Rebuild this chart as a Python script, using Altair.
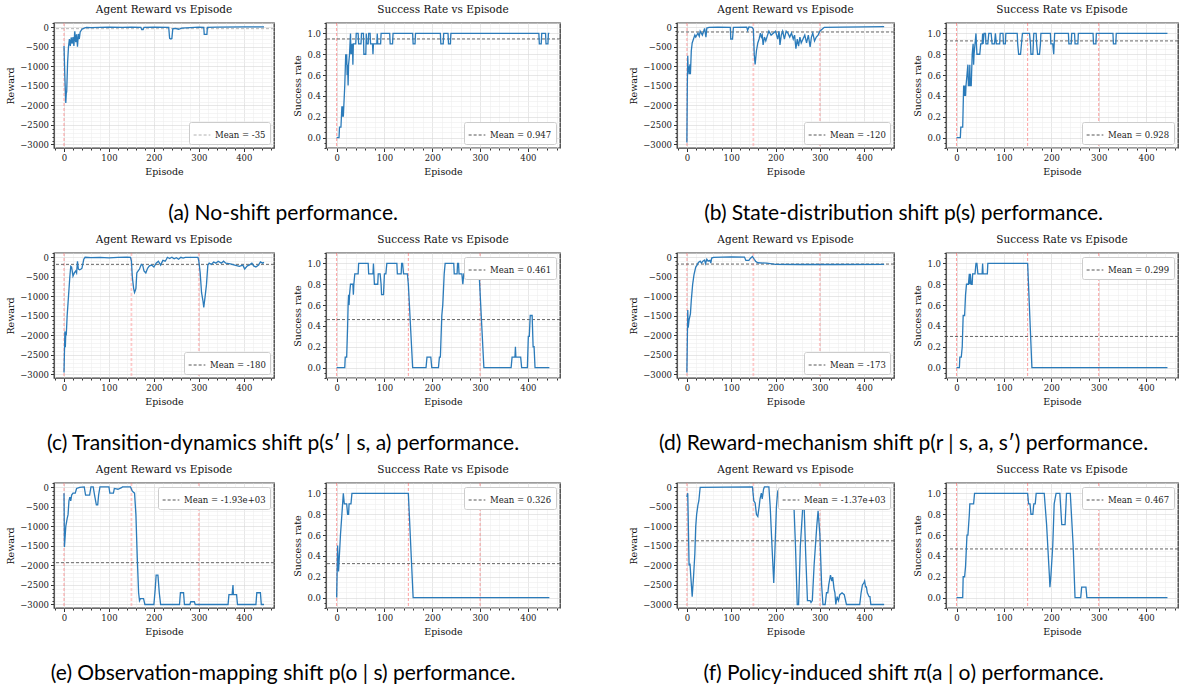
import altair as alt
import pandas as pd

# ---------------- data (episode, value) ----------------
A_REWARD = [(0,-480),(2,-1300),(4,-1940),(5,-1700),(6,-1650),(8,-900),(10,-500),(12,-300),(14,-480),(16,-260),(18,-420),(20,-250),(22,-480),(24,-100),(26,-380),(28,-180),(30,-500),(32,-170),(34,-300),(36,-120),(40,-50),(45,-20),(50,0),(60,-10),(80,0),(100,5),(130,0),(150,5),(171,0),(173,-60),(176,-60),(178,0),(200,5),(233,0),(235,-280),(238,-300),(240,-290),(242,-40),(248,-30),(255,-50),(262,-20),(300,5),(311,0),(312,-180),(318,-180),(319,0),(340,5),(400,10),(445,10)]
A_SUCCESS = [(0,0),(5,0),(6,0.1),(9,0.1),(10,0.2),(11,0.3),(12,0.2),(13,0.3),(14,0.2),(15,0.3),(17,0.5),(19,0.8),(20,0.7),(21,0.8),(22,0.6),(23,0.7),(24,0.5),(25,0.7),(27,0.8),(29,1.0),(30,0.8),(31,0.9),(32,0.8),(33,0.9),(34,0.7),(35,0.9),(40,0.9),(41,1.0),(45,1.0),(46,0.9),(51,0.9),(52,1.0),(56,1.0),(57,0.8),(61,0.8),(62,1.0),(63,0.9),(66,0.9),(67,1.0),(70,1.0),(71,0.9),(75,0.9),(76,0.8),(77,0.9),(84,0.9),(85,1.0),(86,0.9),(92,0.9),(93,1.0),(111,1.0),(112,0.9),(117,0.9),(118,1.0),(159,1.0),(160,0.9),(164,0.9),(165,1.0),(217,1.0),(218,0.9),(223,0.9),(224,1.0),(233,1.0),(234,0.9),(238,0.9),(239,1.0),(423,1.0),(424,0.9),(428,0.9),(429,1.0),(437,1.0),(438,0.9),(442,0.9),(443,1.0),(445,1.0)]
B_REWARD = [(0,-2950),(1,-1500),(2,-730),(3,-1150),(4,-1000),(5,-1200),(7,-950),(8,-1200),(10,-600),(12,-400),(15,-300),(18,-200),(20,-250),(25,-150),(28,-230),(30,-100),(35,-200),(40,-30),(43,-250),(45,-20),(50,0),(70,5),(98,0),(99,-300),(103,-300),(105,0),(135,5),(137,-80),(140,10),(147,0),(150,-50),(152,-700),(154,-950),(157,-600),(160,-400),(163,-300),(166,-150),(168,-250),(170,-200),(172,-450),(175,-250),(178,-350),(182,-200),(185,-100),(190,-200),(195,-150),(200,-100),(205,-300),(208,-100),(210,-450),(213,-200),(216,-100),(220,-300),(224,-100),(228,-150),(232,-250),(236,-150),(240,-300),(243,-200),(246,-550),(249,-300),(252,-480),(255,-250),(258,-400),(262,-300),(266,-200),(270,-400),(274,-200),(278,-500),(281,-250),(284,-150),(288,-350),(292,-250),(296,-200),(300,-100),(305,-50),(310,0),(350,5),(400,10),(445,15)]
B_SUCCESS = [(0,0),(8,0),(9,0.1),(13,0.1),(14,0.3),(15,0.5),(17,0.4),(18,0.5),(19,0.4),(20,0.5),(22,0.6),(24,0.7),(25,0.5),(27,0.5),(28,0.7),(29,0.5),(31,0.5),(33,0.8),(35,0.9),(36,0.7),(37,0.8),(41,1.0),(43,0.8),(49,0.8),(51,0.9),(54,0.9),(55,1.0),(56,0.9),(58,1.0),(61,1.0),(62,0.9),(66,0.9),(68,1.0),(73,1.0),(75,0.9),(80,0.9),(82,1.0),(84,0.9),(91,0.9),(92,1.0),(98,1.0),(99,0.9),(103,0.9),(104,1.0),(128,1.0),(129,0.9),(131,0.8),(135,0.8),(137,0.9),(139,1.0),(154,1.0),(156,0.9),(157,0.8),(161,0.8),(163,1.0),(168,1.0),(169,0.9),(171,0.8),(175,0.8),(177,0.9),(178,1.0),(198,1.0),(199,0.9),(203,0.9),(205,0.8),(207,1.0),(236,1.0),(237,0.9),(242,0.9),(243,1.0),(249,1.0),(250,0.9),(256,0.9),(257,1.0),(288,1.0),(289,0.9),(294,0.9),(295,1.0),(330,1.0),(331,0.9),(336,0.9),(337,1.0),(445,1.0)]
C_REWARD = [(0,-2950),(2,-1900),(3,-2300),(4,-1900),(5,-2000),(7,-1500),(10,-1000),(13,-500),(15,-230),(17,-250),(20,-480),(23,-400),(26,-350),(28,-400),(30,-100),(32,-300),(35,-320),(38,-300),(40,-280),(44,-50),(47,0),(60,-10),(80,0),(100,-15),(120,0),(140,5),(148,0),(150,-100),(152,-500),(155,-800),(157,-900),(160,-800),(162,-400),(165,-350),(168,-300),(172,-180),(175,-200),(178,-350),(182,-400),(186,-280),(190,-220),(195,-200),(200,-250),(205,-150),(210,-100),(215,-200),(220,-80),(225,-100),(228,-50),(230,0),(235,-30),(240,0),(245,-40),(250,-10),(255,-50),(260,0),(265,-20),(270,0),(298,0),(300,-100),(303,-400),(306,-900),(309,-1100),(311,-1280),(314,-1000),(317,-700),(320,-200),(323,-150),(328,-180),(333,-120),(338,-150),(343,-100),(350,-150),(355,-100),(360,-150),(370,-170),(380,-200),(390,-230),(398,-200),(402,-300),(408,-220),(412,-200),(418,-150),(422,-220),(427,-250),(433,-200),(437,-120),(442,-150),(445,-130)]
C_SUCCESS = [(0,0),(17,0),(18,0.1),(21,0.1),(23,0.4),(24,0.6),(25,0.7),(26,0.6),(27,0.7),(29,0.8),(34,0.8),(35,0.7),(36,0.8),(38,0.9),(45,0.9),(46,1.0),(66,1.0),(67,0.9),(76,0.9),(77,1.0),(78,0.9),(79,0.8),(86,0.8),(87,0.9),(91,0.9),(93,0.8),(94,0.7),(98,0.7),(99,0.8),(100,0.9),(103,0.9),(105,1.0),(126,1.0),(127,0.9),(135,0.9),(136,1.0),(138,1.0),(140,0.9),(148,0.9),(150,0.8),(159,0.0),(187,0),(189,0.1),(197,0.1),(199,0.0),(213,0.0),(215,0.1),(217,0.1),(220,0.5),(222,0.6),(225,0.9),(227,1.0),(245,1.0),(246,0.9),(252,0.9),(253,1.0),(255,1.0),(256,0.9),(262,0.9),(264,0.8),(266,0.9),(273,0.9),(274,1.0),(297,1.0),(308,0.0),(365,0.0),(367,0.1),(373,0.1),(374,0.2),(375,0.1),(385,0.1),(387,0.0),(399,0.0),(401,0.3),(403,0.3),(405,0.5),(409,0.5),(411,0.2),(413,0.2),(415,0.0),(445,0.0)]
D_REWARD = [(0,-2950),(2,-1350),(3,-1800),(5,-1600),(8,-1450),(10,-1100),(13,-700),(16,-450),(20,-250),(23,-200),(26,-130),(30,-100),(33,-150),(36,-100),(40,-70),(42,-160),(45,-50),(48,-100),(52,-80),(54,-150),(56,-20),(60,0),(80,5),(100,10),(130,5),(133,-80),(140,-80),(143,-30),(148,20),(152,-50),(155,-100),(160,-140),(180,-150),(200,-180),(260,-185),(330,-185),(445,-180)]
D_SUCCESS = [(0,0),(6,0),(7,0.1),(10,0.1),(12,0.2),(14,0.5),(17,0.5),(19,0.7),(21,0.8),(25,0.8),(27,0.9),(28,0.8),(29,0.9),(31,0.8),(33,0.8),(34,0.9),(39,0.9),(41,1.0),(43,1.0),(45,0.9),(54,0.9),(55,1.0),(56,0.9),(65,0.9),(66,1.0),(150,1.0),(159,0.0),(445,0.0)]
E_REWARD = [(0,-150),(1,-1530),(4,-1000),(7,-800),(9,-700),(11,-350),(13,-250),(15,-350),(17,-200),(20,-150),(25,-150),(28,-30),(35,0),(45,10),(48,-200),(57,-200),(60,10),(65,10),(68,-200),(72,-450),(75,-450),(77,-200),(80,10),(100,10),(102,-150),(110,-150),(112,-30),(120,-50),(128,-10),(130,10),(148,10),(152,-100),(157,-150),(160,-700),(163,-1800),(166,-2700),(168,-2900),(170,-2850),(177,-2850),(180,-3000),(200,-3000),(203,-2600),(205,-2250),(209,-2250),(212,-2700),(215,-3000),(257,-3000),(259,-2700),(266,-2700),(268,-3000),(280,-3000),(282,-2930),(290,-2930),(292,-3000),(365,-3000),(367,-2750),(374,-2750),(376,-2500),(377,-2750),(384,-2750),(386,-3000),(427,-3000),(429,-2700),(437,-2700),(439,-3000),(445,-3000)]
E_SUCCESS = [(0,0),(2,0.5),(4,0.25),(8,0.6),(11,0.8),(14,1.0),(16,0.9),(21,0.9),(23,0.8),(25,0.8),(26,0.9),(30,0.9),(32,1.0),(150,1.0),(160,0.0),(445,0.0)]
F_REWARD = [(0,-250),(2,-150),(5,-2000),(7,-1950),(9,-2300),(12,-2800),(15,-2300),(18,-1700),(20,-1000),(22,-700),(25,-450),(27,-350),(30,0),(148,10),(151,-350),(154,-400),(157,-700),(160,-750),(163,-500),(165,-300),(168,-150),(170,-300),(173,-50),(175,10),(185,10),(188,-500),(192,-1500),(196,-2450),(199,-1500),(202,-500),(205,-100),(208,-50),(212,-100),(216,-80),(220,-100),(223,-10),(227,-50),(230,-200),(233,-100),(237,-150),(241,-300),(245,-1500),(249,-3000),(252,-3000),(256,-1500),(262,-400),(264,-300),(268,-1700),(272,-2900),(278,-2900),(280,-2950),(283,-2900),(287,-2000),(293,-1000),(296,-600),(300,-1200),(304,-2500),(307,-3000),(312,-3000),(315,-2700),(318,-2700),(320,-2500),(324,-2250),(327,-2400),(329,-2300),(332,-2600),(334,-2700),(336,-3000),(339,-2800),(342,-2900),(345,-2750),(350,-2700),(355,-2750),(360,-3000),(390,-3000),(393,-2700),(396,-2500),(399,-2450),(401,-2400),(403,-2550),(405,-2550),(407,-2700),(411,-2800),(413,-2800),(415,-3000),(445,-3000)]
F_SUCCESS = [(0,0),(13,0),(14,0.2),(17,0.2),(19,0.3),(22,0.6),(24,0.6),(27,0.8),(28,0.9),(36,0.9),(38,1.0),(150,1.0),(152,0.9),(155,0.9),(157,0.8),(161,0.8),(163,0.9),(166,0.9),(168,1.0),(185,1.0),(190,0.7),(196,0.2),(197,0.1),(199,0.2),(203,0.5),(206,0.9),(210,1.0),(218,1.0),(222,0.7),(229,0.7),(232,1.0),(240,1.0),(246,0.5),(250,0.0),(262,0.0),(264,0.1),(273,0.1),(275,0.0),(445,0.0)]

MEANS = [-35, 0.947, -120, 0.928, -180, 0.461, -173, 0.299, -1930, 0.326, -1370, 0.467]
MEAN_LABELS = ["Mean = -35", "Mean = 0.947", "Mean = -120", "Mean = 0.928",
               "Mean = -180", "Mean = 0.461", "Mean = -173", "Mean = 0.299",
               "Mean = -1.93e+03", "Mean = 0.326", "Mean = -1.37e+03", "Mean = 0.467"]
SHIFT_EPISODES_NONE = [0]
SHIFT_EPISODES = [0, 150, 300]
CAPTIONS = ["(a) No-shift performance.",
            "(b) State-distribution shift p(s) performance.",
            "(c) Transition-dynamics shift p(s′ | s, a) performance.",
            "(d) Reward-mechanism shift p(r | s, a, s′) performance.",
            "(e) Observation-mapping shift p(o | s) performance.",
            "(f) Policy-induced shift π(a | o) performance."]

# ---------------- style ----------------
SERIF = "DejaVu Serif"
SANS = "Lato"
BLUE = "#2b7bba"
X_DOMAIN = [-22.25, 467.25]
R_DOMAIN = [-3090, 110]
S_DOMAIN = [-0.1, 1.1]
X_TICKS = list(range(-20, 461, 20))
R_TICKS = list(range(-3000, 101, 100))
S_TICKS = [round(-0.1 + 0.05 * i, 2) for i in range(25)]
H = 125


def cond(test, a, b):
    return {"condition": {"test": test, "value": a}, "value": b}


def x_enc():
    major = "datum.value % 100 === 0"
    return alt.X("ep:Q", scale=alt.Scale(domain=X_DOMAIN, nice=False, zero=False),
                 axis=alt.Axis(values=X_TICKS, title="Episode", format="d",
                               labelExpr=f"{major} ? datum.label : ''",
                               tickSize=cond(major, 3.5, 2),
                               gridColor=cond(major, "#d6d6d6", "#eeeeee"),
                               labelFlush=False, labelOverlap=False))


def y_enc(kind):
    if kind == "r":
        major = "datum.value % 500 === 0"
        return alt.Y("v:Q", scale=alt.Scale(domain=R_DOMAIN, nice=False, zero=False),
                     axis=alt.Axis(values=R_TICKS, title="Reward", format="d",
                                   labelExpr=f"{major} ? datum.label : ''",
                                   tickSize=cond(major, 3.5, 2),
                                   gridColor=cond(major, "#d6d6d6", "#eeeeee"),
                                   labelFlush=False, labelOverlap=False))
    major = "abs(round(datum.value * 100)) % 20 === 0"
    return alt.Y("v:Q", scale=alt.Scale(domain=S_DOMAIN, nice=False, zero=False),
                 axis=alt.Axis(values=S_TICKS, title="Success rate", format=".1f",
                               labelExpr=f"{major} ? datum.label : ''",
                               tickSize=cond(major, 3.5, 2),
                               gridColor=cond(major, "#d6d6d6", "#eeeeee"),
                               labelFlush=False, labelOverlap=False))


def panel(kind, pairs, mean, label, orient, shifts, width, mean_color="#555555"):
    df = pd.DataFrame({"ep": [p[0] for p in pairs], "v": [p[1] for p in pairs],
                       "i": list(range(len(pairs)))})
    x = x_enc()
    y = y_enc(kind)
    if kind == "r":
        red = alt.Chart(pd.DataFrame({"ep": shifts})).mark_rule(
            color="#ff6b6b", strokeDash=[3, 2], strokeWidth=1.8, opacity=0.35).encode(x=x)
        title = "Agent Reward vs Episode"
    else:
        red = alt.Chart(pd.DataFrame({"ep": shifts})).mark_rule(
            color="#ff5555", strokeDash=[3, 2], strokeWidth=0.8, opacity=0.7).encode(x=x)
        title = "Success Rate vs Episode"
    mean_chart = alt.Chart(pd.DataFrame({"v": [mean], "label": [label]})).mark_rule(
        color=mean_color, strokeWidth=0.9).encode(
        y=y,
        strokeDash=alt.StrokeDash("label:N",
                                  scale=alt.Scale(domain=[label], range=[[3, 2]]),
                                  legend=alt.Legend(title=None, orient=orient, fillColor="white",
                                                    strokeColor="#cccccc", cornerRadius=2,
                                                    padding=4, offset=4, labelFont=SERIF,
                                                    labelFontSize=8.5, labelColor="#222222",
                                                    symbolType="stroke", symbolSize=280,
                                                    symbolStrokeColor=mean_color,
                                                    symbolStrokeWidth=1)))
    line = alt.Chart(df).mark_line(color=BLUE, strokeWidth=1.3).encode(x=x, y=y, order="i:Q")
    return alt.layer(red, mean_chart, line).properties(
        width=width, height=H,
        title=alt.TitleParams(title, font=SERIF, fontSize=10.5, fontWeight="normal",
                              color="#111111", offset=4))


def group(rw, rs, idx, r_orient, s_orient, shifts, left, r_mean_color="#555555"):
    wr, ws = (220, 234) if left else (217, 232)
    r = panel("r", rw, MEANS[2 * idx], MEAN_LABELS[2 * idx], r_orient, shifts, wr, r_mean_color)
    s = panel("s", rs, MEANS[2 * idx + 1], MEAN_LABELS[2 * idx + 1], s_orient, shifts, ws)
    return alt.hconcat(r, s, spacing=16).resolve_scale(strokeDash="independent").properties(
        title=alt.TitleParams(CAPTIONS[idx], orient="bottom", anchor="middle", font=SANS,
                              fontSize=21, fontWeight="normal", color="#000000", offset=27))


ga = group(A_REWARD, A_SUCCESS, 0, "bottom-right", "bottom-right", SHIFT_EPISODES_NONE, True, "#b0b0b0")
gb = group(B_REWARD, B_SUCCESS, 1, "bottom-right", "bottom-right", SHIFT_EPISODES, False)
gc = group(C_REWARD, C_SUCCESS, 2, "bottom-right", "top-right", SHIFT_EPISODES, True)
gd = group(D_REWARD, D_SUCCESS, 3, "bottom-right", "top-right", SHIFT_EPISODES, False)
ge = group(E_REWARD, E_SUCCESS, 4, "top-right", "top-right", SHIFT_EPISODES, True)
gf = group(F_REWARD, F_SUCCESS, 5, "top-right", "top-right", SHIFT_EPISODES, False)

rows = [alt.hconcat(a, b, spacing=66).resolve_scale(strokeDash="independent")
        for a, b in [(ga, gb), (gc, gd), (ge, gf)]]

chart = alt.vconcat(*rows, spacing=8).resolve_scale(strokeDash="independent").properties(
    padding={"left": 5, "top": 3, "right": 1, "bottom": 0}
).configure_view(stroke="#3a3a3a", strokeWidth=1.3).configure_axis(
    labelFont=SERIF, labelFontSize=8.5, titleFont=SERIF, titleFontSize=9.5,
    titleFontWeight="normal", labelColor="#222222", titleColor="#111111",
    tickColor="#333333", domain=False, gridWidth=0.6, labelPadding=2, titlePadding=4
)

chart.save("out.html", embed_options={"renderer": "svg", "actions": False})
